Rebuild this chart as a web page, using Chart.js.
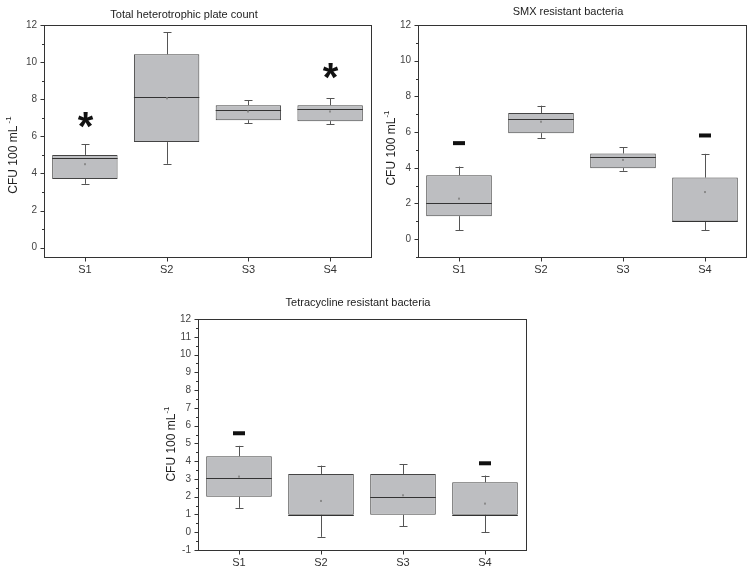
<!DOCTYPE html>
<html>
<head>
<meta charset="utf-8">
<script src="https://cdn.jsdelivr.net/npm/chart.js@4.4.1/dist/chart.umd.min.js"></script>
<style>
  body { margin: 0; background: #fff; }
  .panel { position: absolute; }
</style>
</head>
<body>
<div class="panel" style="left:0;top:0;width:376px;height:285px"><canvas id="c1"></canvas></div>
<div class="panel" style="left:376px;top:0;width:377px;height:285px"><canvas id="c2"></canvas></div>
<div class="panel" style="left:150px;top:290px;width:400px;height:282px"><canvas id="c3"></canvas></div>
<script>
// categories
const sites = ['S1', 'S2', 'S3', 'S4'];

// total heterotrophic plate count
const hpcQ1 = [3.70, 5.69, 6.87, 6.82];
const hpcQ3 = [5.00, 10.42, 7.68, 7.68];
const hpcMedian = [4.84, 8.11, 7.41, 7.50];
const hpcLow = [3.44, 4.52, 6.71, 6.65];
const hpcHigh = [5.58, 11.62, 7.95, 8.04];
const hpcMean = [4.50, 8.05, 7.34, 7.34];
const hpcMarks = [6.85, null, null, 9.45];   // asterisks

// SMX resistant bacteria
const smxQ1 = [1.29, 5.94, 3.98, 0.99];
const smxQ3 = [3.58, 7.07, 4.80, 3.45];
const smxMedian = [2.00, 6.73, 4.61, 0.99];
const smxLow = [0.51, 5.68, 3.83, 0.51];
const smxHigh = [4.07, 7.48, 5.14, 4.78];
const smxMean = [2.27, 6.58, 4.44, 2.64];
const smxMarks = [5.38, null, null, 5.81];   // dashes

// tetracycline resistant bacteria
const tetQ1 = [1.99, 0.98, 0.98, 0.98];
const tetQ3 = [4.28, 3.28, 3.28, 2.81];
const tetMedian = [3.08, 0.98, 1.99, 0.98];
const tetLow = [1.37, -0.26, 0.34, 0.00];
const tetHigh = [4.86, 3.75, 3.83, 3.19];
const tetMean = [3.13, 1.76, 2.08, 1.61];
const tetMarks = [5.57, null, null, 3.88];   // dashes

// tick labels
const ticks12by2 = [0, 2, 4, 6, 8, 10, 12];
const ticks12by1 = [-1, 0, 1, 2, 3, 4, 5, 6, 7, 8, 9, 10, 11, 12];

const boxExtras = {
  id: 'boxExtras',
  afterDatasetsDraw(chart) {
    const o = chart.options.plugins.boxExtras;
    const ctx = chart.ctx;
    const y = chart.scales.y;
    const a = chart.chartArea;
    const meta = chart.getDatasetMeta(0);
    ctx.save();

    // whiskers, medians, means
    meta.data.forEach((bar, i) => {
      const cx = Math.round(bar.x) + 0.5;
      const half = bar.width / 2;
      ctx.strokeStyle = '#555';
      ctx.lineWidth = 1;
      ctx.beginPath();
      ctx.moveTo(cx, y.getPixelForValue(o.q3[i]));
      ctx.lineTo(cx, y.getPixelForValue(o.high[i]));
      ctx.moveTo(cx, y.getPixelForValue(o.q1[i]));
      ctx.lineTo(cx, y.getPixelForValue(o.low[i]));
      const yh = Math.round(y.getPixelForValue(o.high[i])) + 0.5;
      const yl = Math.round(y.getPixelForValue(o.low[i])) + 0.5;
      ctx.moveTo(cx - 4, yh); ctx.lineTo(cx + 4, yh);
      ctx.moveTo(cx - 4, yl); ctx.lineTo(cx + 4, yl);
      ctx.stroke();

      const ym = Math.round(y.getPixelForValue(o.median[i])) + 0.5;
      ctx.strokeStyle = '#333';
      ctx.beginPath();
      ctx.moveTo(bar.x - half, ym); ctx.lineTo(bar.x + half, ym);
      ctx.stroke();

      ctx.fillStyle = '#8a8a8a';
      ctx.fillRect(cx - 1.5, y.getPixelForValue(o.mean[i]) - 1, 2, 2);

      const mk = o.marks[i];
      if (mk != null) {
        const py = y.getPixelForValue(mk);
        ctx.fillStyle = '#111';
        if (o.markType === 'star') {
          ctx.font = 'bold 40px "Liberation Sans", Arial, sans-serif';
          ctx.textAlign = 'center';
          ctx.textBaseline = 'alphabetic';
          ctx.fillText('*', cx, py + 19);
        } else {
          ctx.fillRect(cx - 6.5, py - 2, 12, 4);
        }
      }
    });

    // frame
    ctx.strokeStyle = '#333';
    ctx.lineWidth = 1;
    ctx.strokeRect(Math.round(a.left) + 0.5, Math.round(a.top) + 0.5,
      Math.round(a.right - a.left), Math.round(a.bottom - a.top));

    // y ticks, major and minor
    ctx.beginPath();
    const L = Math.round(a.left) + 0.5;
    for (let v = Math.ceil(y.min / o.minor) * o.minor; v <= y.max + 1e-9; v += o.minor) {
      const py = Math.round(y.getPixelForValue(v)) + 0.5;
      const major = o.ticks.some(t => Math.abs(t - v) < 1e-6);
      ctx.moveTo(L, py);
      ctx.lineTo(L - (major ? 4 : 2.5), py);
    }
    // x ticks
    const B = Math.round(a.bottom) + 0.5;
    meta.data.forEach(bar => {
      const px = Math.round(bar.x) + 0.5;
      ctx.moveTo(px, B); ctx.lineTo(px, B + 4);
    });
    ctx.stroke();

    // panel title
    ctx.fillStyle = '#222';
    ctx.font = '11px "Liberation Sans", Arial, sans-serif';
    ctx.textAlign = 'center';
    ctx.textBaseline = 'middle';
    ctx.fillText(o.title, o.titleX, o.titleY);

    // y axis title with superscript
    ctx.save();
    ctx.translate(o.yTitleX, o.yTitleY);
    ctx.rotate(-Math.PI / 2);
    const main = 'CFU 100 mL';
    ctx.font = '12px "Liberation Sans", Arial, sans-serif';
    const w1 = ctx.measureText(main).width;
    ctx.font = '8px "Liberation Sans", Arial, sans-serif';
    const w2 = ctx.measureText(o.sup).width;
    const start = -(w1 + w2) / 2;
    ctx.textAlign = 'left';
    ctx.font = '12px "Liberation Sans", Arial, sans-serif';
    ctx.fillText(main, start, 0);
    ctx.font = '8px "Liberation Sans", Arial, sans-serif';
    ctx.fillText(o.sup, start + w1, -5);
    ctx.restore();

    ctx.restore();
  }
};

function makePanel(id, q1, q3, median, low, high, mean, marks, p) {
  new Chart(document.getElementById(id), {
    type: 'bar',
    data: {
      labels: sites,
      datasets: [{
        data: sites.map((s, i) => [q1[i], q3[i]]),
        backgroundColor: '#bdbec1',
        borderColor: '#444',
        borderWidth: 1,
        borderSkipped: false,
        barPercentage: 0.8,
        categoryPercentage: 1
      }]
    },
    options: {
      responsive: true,
      maintainAspectRatio: false,
      animation: false,
      layout: { padding: { top: p.top, right: p.right, left: 0, bottom: 0 } },
      plugins: {
        legend: { display: false },
        tooltip: { enabled: false },
        boxExtras: {
          q1, q3, median, low, high, mean, marks,
          markType: p.markType, ticks: p.ticks, minor: p.minor,
          title: p.title, titleX: p.titleX, titleY: p.titleY,
          yTitleX: p.yTitleX, yTitleY: p.yTitleY, sup: p.sup
        }
      },
      scales: {
        x: {
          offset: true,
          grid: { display: false, tickLength: 0 },
          border: { display: false },
          ticks: { color: '#333', font: { size: 11, family: '"Liberation Sans", Arial, sans-serif' }, padding: 6 },
          afterFit(s) { s.height = p.xh; }
        },
        y: {
          min: p.min,
          max: 12,
          grid: { display: false, tickLength: 0 },
          border: { display: false },
          afterBuildTicks(s) { s.ticks = p.ticks.map(v => ({ value: v })); },
          ticks: { color: '#444', font: { size: 10, family: '"Liberation Sans", Arial, sans-serif' }, padding: 7 },
          afterFit(s) { s.width = p.yw; }
        }
      }
    },
    plugins: [boxExtras]
  });
}

makePanel('c1', hpcQ1, hpcQ3, hpcMedian, hpcLow, hpcHigh, hpcMean, hpcMarks, {
  top: 25, right: 5, yw: 44, xh: 28, min: -0.5, ticks: ticks12by2, minor: 1,
  markType: 'star', title: 'Total heterotrophic plate count', titleX: 184, titleY: 15,
  yTitleX: 14, yTitleY: 155, sup: ' -1'
});
makePanel('c2', smxQ1, smxQ3, smxMedian, smxLow, smxHigh, smxMean, smxMarks, {
  top: 25, right: 7, yw: 42, xh: 28, min: -1, ticks: ticks12by2, minor: 1,
  markType: 'dash', title: 'SMX resistant bacteria', titleX: 192, titleY: 12,
  yTitleX: 16, yTitleY: 148, sup: '-1'
});
makePanel('c3', tetQ1, tetQ3, tetMedian, tetLow, tetHigh, tetMean, tetMarks, {
  top: 29, right: 24, yw: 48, xh: 22, min: -1, ticks: ticks12by1, minor: 0.5,
  markType: 'dash', title: 'Tetracycline resistant bacteria', titleX: 208, titleY: 13,
  yTitleX: 22, yTitleY: 154, sup: '-1'
});
</script>
</body>
</html>
